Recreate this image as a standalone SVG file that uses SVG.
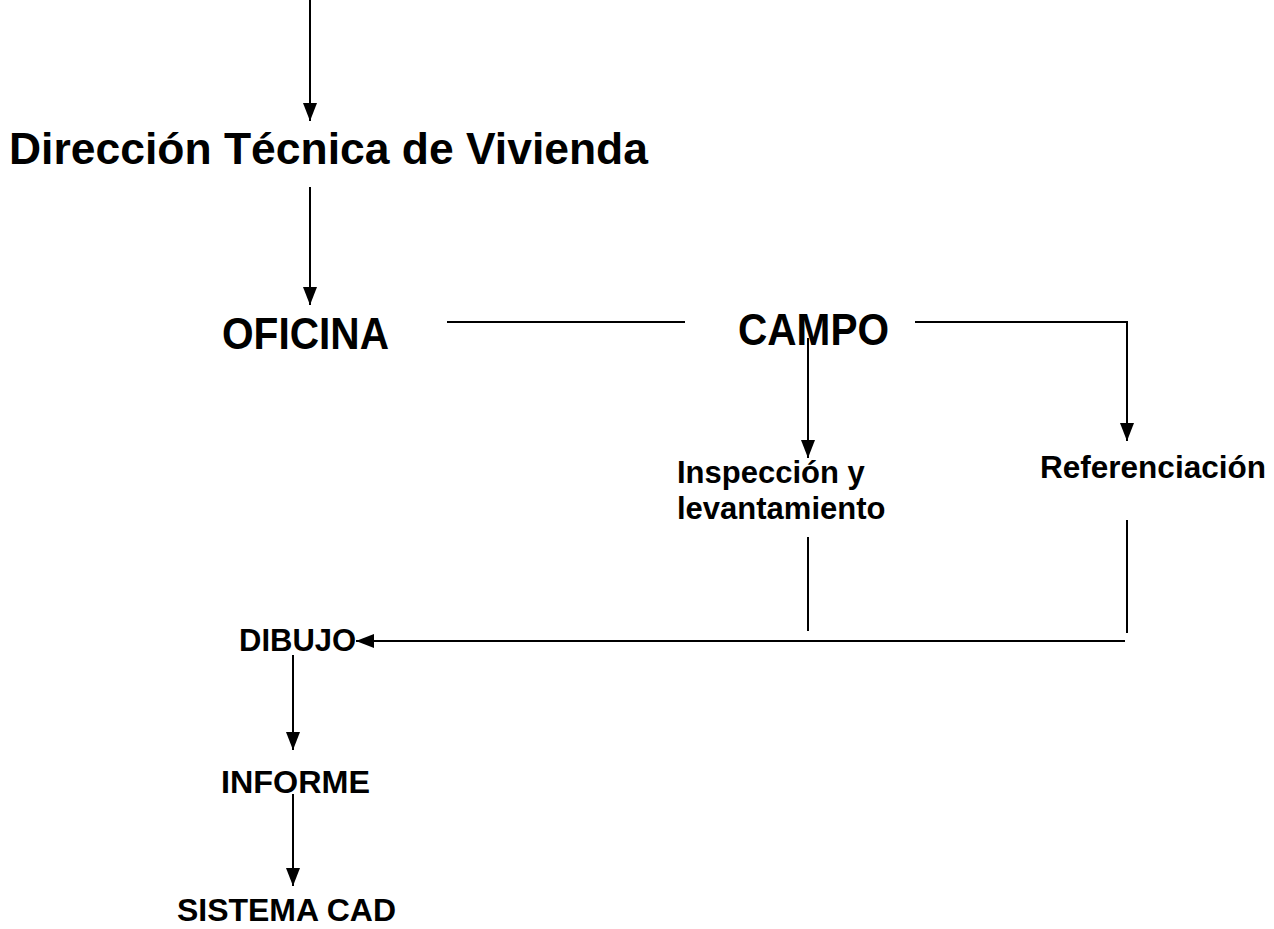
<svg xmlns="http://www.w3.org/2000/svg" width="1274" height="929" viewBox="0 0 1274 929">
<style>
.t{font-family:"Liberation Sans",Arial,sans-serif;font-weight:bold;fill:#000}
.big{font-size:44px}
.mid{font-size:44px}
.sm{font-size:31px}
.c line{stroke:#000;stroke-width:2}
</style>
<defs>
<marker id="ah" markerUnits="userSpaceOnUse" viewBox="0 0 18 14" refX="18" refY="7" markerWidth="18" markerHeight="14" orient="auto">
<path d="M0,0 L18,7 L0,14 z" fill="#000"/>
</marker>
</defs>
<rect width="1274" height="929" fill="#fff"/>
<g class="c" id="connectors">
<line x1="310" y1="0" x2="310" y2="121" marker-end="url(#ah)"/>
<line x1="310" y1="187" x2="310" y2="305" marker-end="url(#ah)"/>
<line x1="447" y1="322" x2="685" y2="322"/>
<line x1="915" y1="322" x2="1128" y2="322"/>
<line x1="1127" y1="321" x2="1127" y2="441" marker-end="url(#ah)"/>
<line x1="808" y1="338" x2="808" y2="458" marker-end="url(#ah)"/>
<line x1="808" y1="537" x2="808" y2="631"/>
<line x1="1127" y1="520" x2="1127" y2="633"/>
<line x1="1125" y1="641" x2="356" y2="641" marker-end="url(#ah)"/>
<line x1="293" y1="655" x2="293" y2="750" marker-end="url(#ah)"/>
<line x1="293" y1="794" x2="293" y2="886" marker-end="url(#ah)"/>
</g>
<g id="direccion"><text class="t big" x="9" y="164" textLength="639" lengthAdjust="spacingAndGlyphs">Dirección Técnica de Vivienda</text></g>
<g id="oficina"><text class="t mid" x="222" y="349" textLength="167" lengthAdjust="spacingAndGlyphs">OFICINA</text></g>
<g id="campo"><text class="t mid" x="738" y="345" textLength="151" lengthAdjust="spacingAndGlyphs">CAMPO</text></g>
<g id="inspeccion"><text class="t sm" x="677" y="483">Inspección y</text><text class="t sm" x="677" y="519">levantamiento</text></g>
<g id="referenciacion"><text class="t sm" x="1040" y="478" textLength="226" lengthAdjust="spacingAndGlyphs">Referenciación</text></g>
<g id="dibujo"><text class="t sm" x="239" y="651">DIBUJO</text></g>
<g id="informe"><text class="t sm" x="221" y="793" textLength="149" lengthAdjust="spacingAndGlyphs">INFORME</text></g>
<g id="sistema"><text class="t sm" x="177" y="921" textLength="219" lengthAdjust="spacingAndGlyphs">SISTEMA CAD</text></g>
</svg>
